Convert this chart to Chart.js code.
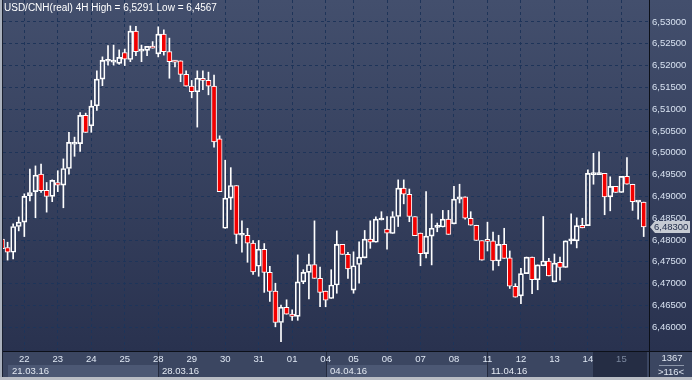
<!DOCTYPE html>
<html><head><meta charset="utf-8">
<script src="https://cdn.jsdelivr.net/npm/chart.js@4.4.0/dist/chart.umd.min.js"></script>
<style>html,body{margin:0;padding:0;background:#2f3a57;overflow:hidden}canvas{display:block}</style>
</head><body>
<canvas id="c" width="692" height="380"></canvas>
<script>
// ---- data (USD/CNH 4H) ----
const openP = [6.4802,6.4783,6.4772,6.4831,6.4841,6.4902,6.4911,6.4951,6.4914,6.4900,
 6.4932,6.4926,6.4964,6.5020,6.5021,6.5086,6.5062,6.5108,6.5169,6.5210,
 6.5208,6.5205,6.5230,6.5214,6.5279,6.5233,6.5235,6.5244,6.5227,6.5272,
 6.5232,6.5212,6.5211,6.5180,6.5153,6.5140,6.5171,6.5166,6.5153,6.5032,
 6.4827,6.4896,6.4925,6.4811,6.4811,6.4793,6.4740,6.4779,6.4726,6.4683,
 6.4611,6.4646,6.4630,6.4625,6.4704,6.4726,6.4744,6.4712,6.4683,6.4666,
 6.4697,6.4790,6.4767,6.4685,6.4744,6.4759,6.4802,6.4795,6.4846,6.4825,
 6.4815,6.4854,6.4919,6.4905,6.4854,6.4816,6.4769,6.4809,6.4829,6.4830,
 6.4848,6.4837,6.4894,6.4899,6.4850,6.4834,6.4799,6.4801,6.4798,6.4752,
 6.4790,6.4759,6.4694,6.4672,6.4723,6.4761,6.4709,6.4741,6.4752,6.4704,
 6.4749,6.4737,6.4798,6.4798,6.4834,6.4833,6.4950,6.4950,6.4953,6.4899,
 6.4923,6.4909,6.4946,6.4928,6.4887,6.4887];
const highP = [6.4808,6.4795,6.4837,6.4853,6.4906,6.4963,6.4970,6.4974,6.4932,6.4938,
 6.4959,6.4986,6.5047,6.5036,6.5092,6.5091,6.5120,6.5188,6.5220,6.5246,
 6.5247,6.5236,6.5238,6.5291,6.5290,6.5247,6.5244,6.5255,6.5289,6.5282,
 6.5263,6.5212,6.5211,6.5188,6.5166,6.5188,6.5188,6.5185,6.5178,6.5039,
 6.4983,6.4966,6.4925,6.4844,6.4827,6.4799,6.4799,6.4792,6.4740,6.4701,
 6.4651,6.4663,6.4640,6.4766,6.4732,6.4768,6.4844,6.4738,6.4683,6.4732,
 6.4821,6.4790,6.4772,6.4773,6.4796,6.4822,6.4844,6.4853,6.4865,6.4854,
 6.4865,6.4938,6.4938,6.4917,6.4854,6.4816,6.4911,6.4860,6.4839,6.4868,
 6.4868,6.4923,6.4928,6.4899,6.4865,6.4834,6.4799,6.4841,6.4818,6.4811,
 6.4827,6.4775,6.4700,6.4735,6.4761,6.4761,6.4743,6.4854,6.4758,6.4768,
 6.4761,6.4798,6.4860,6.4851,6.4850,6.4961,6.4999,6.5002,6.4953,6.4945,
 6.4923,6.4946,6.4989,6.4928,6.4888,6.4887];
const lowP = [6.4775,6.4754,6.4757,6.4821,6.4808,6.4890,6.4851,6.4909,6.4864,6.4888,
 6.4911,6.4874,6.4951,6.4992,6.5003,6.5047,6.5047,6.5097,6.5154,6.5201,
 6.5201,6.5203,6.5200,6.5209,6.5223,6.5209,6.5223,6.5240,6.5220,6.5224,
 6.5171,6.5197,6.5163,6.5153,6.5126,6.5059,6.5145,6.5133,6.5013,6.4911,
 6.4827,6.4870,6.4792,6.4772,6.4749,6.4721,6.4717,6.4680,6.4659,6.4601,
 6.4567,6.4630,6.4616,6.4616,6.4700,6.4665,6.4712,6.4647,6.4647,6.4666,
 6.4678,6.4767,6.4712,6.4678,6.4701,6.4759,6.4781,6.4795,6.4846,6.4779,
 6.4815,6.4831,6.4883,6.4842,6.4810,6.4741,6.4759,6.4743,6.4819,6.4830,
 6.4813,6.4837,6.4885,6.4848,6.4834,6.4799,6.4754,6.4775,6.4731,6.4741,
 6.4758,6.4689,6.4669,6.4654,6.4723,6.4677,6.4686,6.4741,6.4718,6.4704,
 6.4708,6.4737,6.4791,6.4782,6.4828,6.4833,6.4928,6.4950,6.4858,6.4867,
 6.4909,6.4909,6.4928,6.4868,6.4848,6.4808];
const closeP = [6.4780,6.4772,6.4831,6.4841,6.4900,6.4909,6.4949,6.4913,6.4900,6.4937,
 6.4926,6.4964,6.5024,6.5022,6.5086,6.5047,6.5107,6.5169,6.5212,6.5212,
 6.5210,6.5219,6.5215,6.5279,6.5232,6.5235,6.5244,6.5240,6.5272,6.5232,
 6.5209,6.5208,6.5180,6.5153,6.5140,6.5171,6.5166,6.5153,6.5025,6.4911,
 6.4896,6.4925,6.4813,6.4813,6.4793,6.4727,6.4779,6.4726,6.4682,6.4611,
 6.4646,6.4630,6.4625,6.4704,6.4726,6.4744,6.4712,6.4680,6.4662,6.4697,
 6.4790,6.4767,6.4734,6.4741,6.4761,6.4802,6.4795,6.4848,6.4848,6.4816,
 6.4854,6.4919,6.4905,6.4854,6.4810,6.4769,6.4809,6.4827,6.4830,6.4848,
 6.4813,6.4894,6.4899,6.4850,6.4834,6.4799,6.4754,6.4797,6.4752,6.4790,
 6.4758,6.4694,6.4669,6.4723,6.4761,6.4709,6.4743,6.4752,6.4718,6.4747,
 6.4737,6.4798,6.4799,6.4833,6.4828,6.4953,6.4952,6.4952,6.4899,6.4923,
 6.4909,6.4946,6.4928,6.4888,6.4888,6.4830];
const dayStartIdx = [4,10,16,22,28,34,40,46,52,58,63,69,75,81,87,93,99,105,111];
const dayLabels = ['22','23','24','25','28','29','30','31','01','04','05','06','07','08','11','12','13','14','15'];
const weekStartIdx = [28,58,87];
const weekLabels = ['21.03.16','28.03.16','04.04.16','11.04.16'];
const yTicks = [6.460,6.465,6.470,6.475,6.480,6.485,6.490,6.495,6.500,6.505,6.510,6.515,6.520,6.525,6.530];
const titleText = 'USD/CNH(real) 4H High = 6,5291 Low = 6,4567';
const cornerTop = '1367';
const cornerBottom = '>116<';

// ---- view config ----
const X_MIN = 0.18, X_MAX = 115.95;
const Y_MIN = 6.45456, Y_MAX = 6.53504;
const FONT = '"Liberation Sans", Arial, sans-serif';
const RED = '#f20000', WHITE = '#ffffff';
const fmt = v => v.toFixed(5).replace('.', ',');

const idx = openP.map((_, i) => i);
const upperWick = idx.map(i => ({x: i, y: [Math.max(openP[i], closeP[i]), highP[i]]}));
const lowerWick = idx.map(i => ({x: i, y: [lowP[i], Math.min(openP[i], closeP[i])]}));
const bodies = idx.map(i => ({x: i, y: [openP[i], closeP[i]]}));

const decor = {
  id: 'decor',
  beforeDraw(chart) {
    const {ctx, chartArea: ca, width: W, height: H} = chart;
    const xs = chart.scales.x;
    ctx.save();
    const g = ctx.createLinearGradient(0, 0, 0, ca.bottom);
    g.addColorStop(0, '#434f6d');
    g.addColorStop(1, '#29324f');
    ctx.fillStyle = g;
    ctx.fillRect(0, 0, W, ca.bottom);
    ctx.fillStyle = '#3b4661';
    ctx.fillRect(0, ca.bottom, W, H - ca.bottom);
    const b = [8].concat(weekStartIdx.map(i => Math.round(xs.getPixelForValue(i))));
    const darkStart = Math.round(xs.getPixelForValue(105.85));
    b.push(darkStart);
    for (let k = 0; k < b.length - 1; k++) {
      if (k % 2 === 0) {
        ctx.fillStyle = '#4c5874';
        ctx.fillRect(b[k], 365, b[k + 1] - b[k], 12);
      }
    }
    ctx.fillStyle = '#252d44';
    ctx.fillRect(darkStart, ca.bottom + 1, ca.right - 2 - darkStart, H - 3 - ca.bottom - 1);
    ctx.fillStyle = '#232a3e';
    weekStartIdx.forEach(i => {
      const x = Math.round(xs.getPixelForValue(i));
      ctx.fillRect(x, ca.bottom, 1, H - 3 - ca.bottom);
    });
    ctx.restore();
  },
  afterDraw(chart) {
    const {ctx, chartArea: ca, width: W, height: H} = chart;
    const xs = chart.scales.x, ys = chart.scales.y;
    ctx.save();
    ctx.fillStyle = '#0c1019';
    ctx.fillRect(0, ca.bottom, W, 1);
    ctx.fillRect(ca.right, 0, 1, H);
    ctx.fillStyle = '#aab1bd';
    ctx.fillRect(0, 0, 2, H);
    ctx.fillStyle = '#b9bdc5';
    ctx.fillRect(0, H - 3, W, 3);
    ctx.fillStyle = '#1a2030';
    ctx.fillRect(2, 0, 1, H - 3);
    // title
    ctx.font = '10px ' + FONT;
    ctx.fillStyle = '#ffffff';
    ctx.textBaseline = 'middle';
    ctx.textAlign = 'left';
    ctx.fillText(titleText, 4, 8);
    // week labels
    ctx.font = '9.5px ' + FONT;
    ctx.fillStyle = '#e3e9f3';
    const starts = [8].concat(weekStartIdx.map(i => Math.round(xs.getPixelForValue(i))));
    weekLabels.forEach((t, k) => ctx.fillText(t, starts[k] + 4, 371.5));
    // corner
    ctx.textAlign = 'center';
    ctx.fillStyle = '#dfe6f1';
    ctx.fillText(cornerTop, 672, 358);
    ctx.fillText(cornerBottom, 671, 372);
    ctx.fillStyle = '#8d97aa';
    ctx.fillRect(659, 365, 25, 1);
    // current price tag
    const last = closeP[closeP.length - 1];
    const py = Math.round(ys.getPixelForValue(last));
    ctx.fillStyle = '#c6cbd3';
    ctx.beginPath();
    ctx.moveTo(650, py);
    ctx.lineTo(655, py - 6);
    ctx.lineTo(690, py - 6);
    ctx.lineTo(690, py + 6);
    ctx.lineTo(655, py + 6);
    ctx.closePath();
    ctx.fill();
    ctx.fillStyle = '#1e2a48';
    ctx.textAlign = 'left';
    ctx.font = '9.5px ' + FONT;
    ctx.fillText(fmt(last), 654, py + 0.5);
    ctx.restore();
  }
};

const zeroPad = s => { s.paddingTop = 0; s.paddingBottom = 0; s.paddingLeft = 0; s.paddingRight = 0; };

new Chart(document.getElementById('c'), {
  type: 'bar',
  data: {
    datasets: [
      {data: upperWick, backgroundColor: WHITE, borderWidth: 0, barThickness: 1, grouped: false, clip: 0},
      {data: lowerWick, backgroundColor: WHITE, borderWidth: 0, barThickness: 1, grouped: false, clip: 0},
      {data: bodies, grouped: false, clip: 0, barThickness: 5, borderWidth: 1, borderSkipped: false,
       borderColor: WHITE, minBarLength: 2,
       backgroundColor: c => (c.raw && c.raw.y[1] < c.raw.y[0]) ? RED : 'rgba(0,0,0,0)'}
    ]
  },
  options: {
    responsive: false, animation: false, devicePixelRatio: 1,
    layout: {padding: {left: 3, top: 0, right: 0, bottom: 0}},
    plugins: {legend: {display: false}, tooltip: {enabled: false}},
    scales: {
      x: {
        type: 'linear', min: X_MIN, max: X_MAX, offset: false,
        grid: {offset: false, color: '#1e3459', drawTicks: false, lineWidth: 1},
        border: {display: false, dash: [3, 3]},
        afterBuildTicks: s => { s.ticks = dayStartIdx.map(v => ({value: v})); },
        afterFit: s => { s.height = 29; zeroPad(s); },
        ticks: {
          autoSkip: false, maxRotation: 0, minRotation: 0, padding: 3,
          font: {family: FONT, size: 9.5},
          color: c => c.index === dayLabels.length - 1 ? '#7c889f' : '#e0e8f4',
          callback: (v, i) => dayLabels[i]
        }
      },
      y: {
        type: 'linear', position: 'right', min: Y_MIN, max: Y_MAX,
        grid: {color: '#1e3459', drawTicks: false, lineWidth: 1},
        border: {display: false, dash: [3, 3]},
        afterBuildTicks: s => { s.ticks = yTicks.map(v => ({value: v})); },
        afterFit: s => { s.width = 43; zeroPad(s); },
        ticks: {padding: 3, font: {family: FONT, size: 9.5}, color: '#d8e2f1', callback: v => fmt(v)}
      }
    }
  },
  plugins: [decor]
});
</script>
</body></html>
